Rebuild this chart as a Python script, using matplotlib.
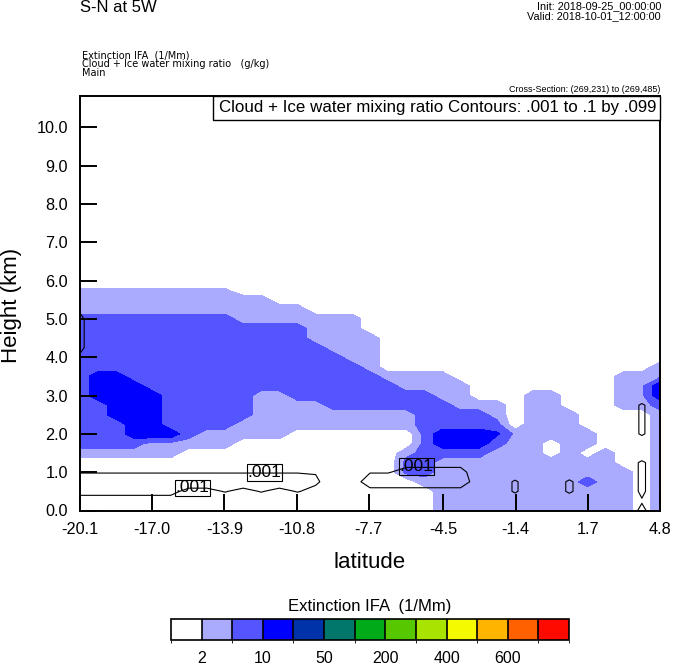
import numpy as np
import matplotlib
matplotlib.use('Agg')
import matplotlib.pyplot as plt
from matplotlib.colors import ListedColormap, BoundaryNorm
from matplotlib.cm import ScalarMappable
from matplotlib.patches import Rectangle

plt.rcParams['font.family'] = ['Liberation Sans', 'DejaVu Sans']

# cross-section grid: 33 latitude columns, 0-6 km every 0.25 km (all clear above)
lat = np.linspace(-20.1, 4.8, 33)
hgt = np.arange(25) * 0.25

lat_ticks = [-20.1, -17.0, -13.9, -10.8, -7.7, -4.5, -1.4, 1.7, 4.8]
lat_labels = ['-20.1', '-17.0', '-13.9', '-10.8', '-7.7', '-4.5', '-1.4', '1.7', '4.8']
hgt_ticks = [0, 1, 2, 3, 4, 5, 6, 7, 8, 9, 10]

# extinction levels (1/Mm) and colours
ext_levels = [2, 5, 10, 20, 50, 100, 200, 300, 400, 500, 600, 700]
ext_colors = ['#FFFFFF', '#AAAAFF', '#5555FF', '#0000FF', '#0033AA', '#00776A',
              '#00AA18', '#55C800', '#A8E400', '#F6FA00', '#FFB400', '#FF6000', '#FF0A00']
cbar_ticks = [2, 10, 50, 200, 400, 600]

# extinction (1/Mm) per latitude column, bottom -> top; zero above the last value
ext_cols = [
    [0,0,0,0,0,0,4,6,6,6,6,6,6,6,6,6,6,6,6,6,6,4,4,2.5],
    [0,0,0,0,0,0,4,6,6,6,6,6,14,14,14,6,6,6,6,6,6,4,4,2.5],
    [0,0,0,0,0,0,4,6,6,6,14,14,14,14,14,6,6,6,6,6,6,4,4,2.5],
    [0,0,0,0,0,0,4,6,14,14,14,14,14,14,6,6,6,6,6,6,6,4,4,2.5],
    [0,0,0,0,0,0,4,4,14,14,14,14,14,6,6,6,6,6,6,6,6,4,4,2.5],
    [0,0,0,0,0,0,4,4,14,6,6,6,6,6,6,6,6,6,6,6,6,4,4,2.5],
    [0,0,0,0,0,0,0,4,6,6,6,6,6,6,6,6,6,6,6,6,6,4,4,2.5],
    [0,0,0,0,0,0,0,4,4,6,6,6,6,6,6,6,6,6,6,6,6,4,4,2.5],
    [0,0,0,0,0,0,0,4,4,6,6,6,6,6,6,6,6,6,6,6,6,4,4,2.5],
    [0,0,0,0,0,0,0,0,4,4,6,6,6,6,6,6,6,6,6,6,4,4,4],
    [0,0,0,0,0,0,0,0,4,4,4,4,4,6,6,6,6,6,6,6,4,4,4],
    [0,0,0,0,0,0,0,0,4,4,4,4,4,6,6,6,6,6,6,6,4,4],
    [0,0,0,0,0,0,0,0,0,4,4,4,6,6,6,6,6,6,6,6,4,4],
    [0,0,0,0,0,0,0,0,0,4,4,4,6,6,6,6,6,6,4,4,4],
    [0,0,0,0,0,0,0,0,0,4,4,6,6,6,6,6,6,4,4,4,4],
    [0,0,0,0,0,0,0,0,0,4,4,6,6,6,6,6,4,4,4,4,4],
    [0,0,0,0,0,0,0,0,0,4,4,6,6,6,6,4,4,4,4],
    [0,0,0,0,0,0,0,0,0,4,4,6,6,6,4],
    [0,0,0,0,6,6,4,0,0,4,4,6,6,4,4],
    [0,0,0,4,6,6,6,6,6,6,6,6,6,4,4],
    [4,4,4,4,4,4,6,14,14,6,6,6,4,4,4],
    [4,4,4,4,4,4,6,14,14,6,6,4,4,4],
    [4,4,4,4,4,4,6,14,14,6,6,4],
    [4,4,4,4,4,4,4,6,11,6,4,4],
    [4,4,4,4,4,4,4,4,4],
    [4,4,4,4,4,4,4,4,4,4,4,4,4],
    [4,4,4,4,4,4,0,0,4,4,4,4,4],
    [4,4,4,4,4,4,4,4,4,4,4],
    [4,4,4,6,4,4,0,4,4],
    [4,4,4,4,4,4,4],
    [4,4,4,4,4,0,0,0,0,0,0,4,4,4,4],
    [0,0,0,0,0,0,0,0,0,0,0,4,4,4,4],
    [4,4,4,4,4,4,4,4,4,4,4,6,14,14,4,4],
]

# cloud + ice water mixing ratio, units of 0.001 g/kg, one row per height
qc_rows = [
    [0]*31 + [1.3, 0],
    [0.3]*6 + [0]*25 + [0.9, 0],
    [1.5,1.5,1.5,1.5,1.5,1.5,0.5,0.5,1.1,0.5,1.1,0.5,1.1,0.5,0,0,0.4,0.4,0.4,0.4,0.4,0.4,0,0,1.2,0,0,1.25,0,0,0,1.25,0],
    [2,2,2,2,2,2,2,2,2,2,2,2,2,1.3,0,0,2,2,2,2,2,2,0,0,1.2,0,0,1.25,0,0,0,1.25,0],
    [0.9]*14 + [0,0,0.9,0.9,1.5,1.5,1.5,1.5] + [0]*9 + [1.25, 0],
    [0]*18 + [0.5]*4 + [0]*9 + [1.25, 0],
    [0]*33,
    [0]*33,
    [0]*31 + [1.2, 0],
    [0]*31 + [1.2, 0],
    [0]*31 + [1.2, 0],
    [0]*31 + [1.2, 0],
    [0]*33,
    [0]*33,
    [0]*33,
    [0]*33,
    [0.8] + [0]*32,
    [1.3] + [0]*32,
    [1.3] + [0]*32,
    [1.3] + [0]*32,
    [1.3] + [0]*32,
    [0.8] + [0]*32,
    [0]*33,
    [0]*33,
    [0]*33,
]
qc_levels = [0.001, 0.1]
# contour labels (lat, height)
lab_lat = [-15.27, -12.18, -5.65]
lab_hgt = [0.59, 0.99, 1.14]

ext = np.array([c + [0] * (len(hgt) - len(c)) for c in ext_cols], dtype=float).T
qc = np.array(qc_rows) * 0.001

W, H = 674, 668
fig = plt.figure(figsize=(W / 100, H / 100), dpi=100)
ax = fig.add_axes([80 / W, 1 - 510.5 / H, 580 / W, 414.5 / H])

ax.contourf(lat, hgt, ext, levels=ext_levels + [800], colors=ext_colors[1:])
ax.contour(lat, hgt, qc, levels=qc_levels, colors='black', linewidths=0.8)
for x, y in zip(lab_lat, lab_hgt):
    ax.text(x, y, '.001', ha='center', va='center', fontsize=12.5,
            bbox=dict(boxstyle='square,pad=0.05', fc='none', ec='black', lw=0.8))

ax.set_xlim(-20.1, 4.8)
ax.set_ylim(0, 10.82)
ax.set_xticks(lat_ticks)
ax.set_xticklabels(lat_labels)
ax.set_yticks(hgt_ticks)
ax.set_yticklabels(['%.1f' % v for v in hgt_ticks])
ax.tick_params(direction='in', length=12, width=1.4, labelsize=11.7, top=False, right=False)
ax.tick_params(axis='y', pad=8.6)
ax.tick_params(axis='x', pad=8)
for s in ax.spines.values():
    s.set_linewidth(1.4)

# title box inside the plot
ax.add_patch(Rectangle(((213 - 80) / 580, (510.5 - 120) / 414.5), (660 - 213) / 580,
                       (120 - 96) / 414.5, transform=ax.transAxes, fc='white', ec='black',
                       lw=1, zorder=5, clip_on=False))
ax.text((656 - 80) / 580, (510.5 - 108) / 414.5,
        'Cloud + Ice water mixing ratio Contours: .001 to .1 by .099',
        transform=ax.transAxes, ha='right', va='center', fontsize=12.2, zorder=6)

fig.text(12 / W, 1 - 305 / H, 'Height (km)', rotation=90, ha='center', va='center', fontsize=16)
fig.text(370 / W, 1 - 562 / H, 'latitude', ha='center', va='center', fontsize=16)

small = ['DejaVu Sans']
fig.text(80 / W, 1 - 8 / H, 'S-N at 5W', ha='left', va='center', fontsize=12)
fig.text(661 / W, 1 - 6.5 / H, 'Init: 2018-09-25_00:00:00', ha='right', va='center', fontsize=7.8)
fig.text(661 / W, 1 - 16.5 / H, 'Valid: 2018-10-01_12:00:00', ha='right', va='center', fontsize=7.8)
fig.text(82 / W, 1 - 55 / H, 'Extinction IFA  (1/Mm)', ha='left', va='center', fontsize=7, family=small)
fig.text(82 / W, 1 - 63.8 / H, 'Cloud + Ice water mixing ratio   (g/kg)', ha='left', va='center',
         fontsize=7, family=small)
fig.text(82 / W, 1 - 72.6 / H, 'Main', ha='left', va='center', fontsize=7, family=small)
fig.text(660 / W, 1 - 90 / H, 'Cross-Section: (269,231) to (269,485)', ha='right', va='center', fontsize=6.5)

# colour bar
cax = fig.add_axes([171 / W, 1 - 639.5 / H, 398 / W, 21 / H])
cmap = ListedColormap(ext_colors)
norm = BoundaryNorm([0] + ext_levels + [800], cmap.N)
cb = fig.colorbar(ScalarMappable(norm=norm, cmap=cmap), cax=cax, orientation='horizontal',
                  spacing='uniform', drawedges=True, ticks=cbar_ticks)
cb.outline.set_linewidth(1.2)
cb.dividers.set_linewidth(1.2)
cax.tick_params(length=0, pad=8, labelsize=11.5)
fig.text(370 / W, 1 - 606 / H, 'Extinction IFA  (1/Mm)', ha='center', va='center', fontsize=12)

fig.savefig('out.png', dpi=100)
